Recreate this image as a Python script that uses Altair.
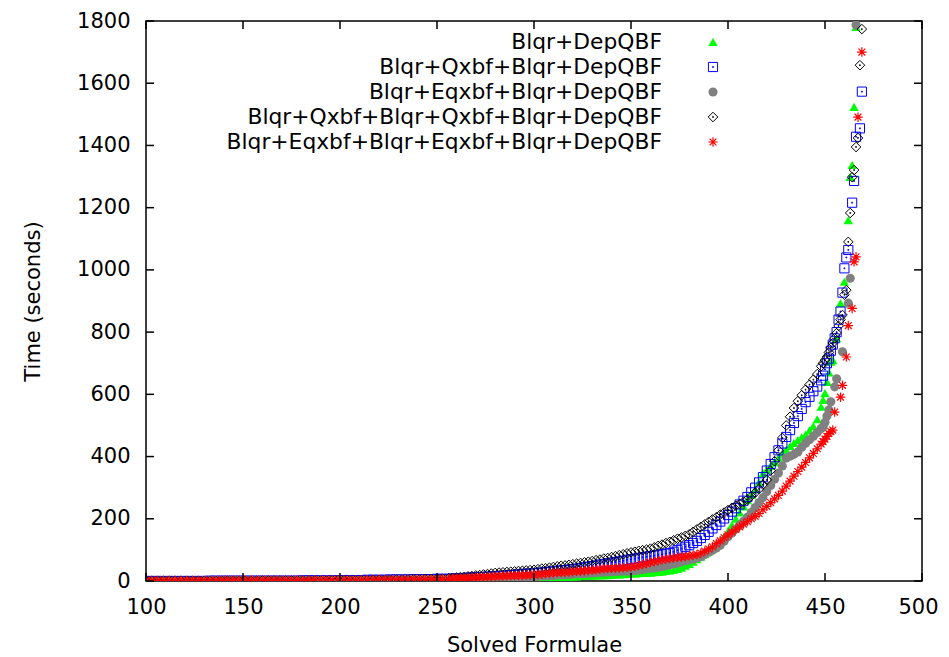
import altair as alt
import pandas as pd

# ---------------- data ----------------
names = [
    "Blqr+DepQBF",
    "Blqr+Qxbf+Blqr+DepQBF",
    "Blqr+Eqxbf+Blqr+DepQBF",
    "Blqr+Qxbf+Blqr+Qxbf+Blqr+DepQBF",
    "Blqr+Eqxbf+Blqr+Eqxbf+Blqr+DepQBF",
]

# solved-formulae positions (flat part every 3, rising part every 2)
x_flat = [100, 103, 106, 109, 112, 115, 118, 121, 124, 127, 130, 133, 136, 139, 142, 145, 148, 151, 154, 157,
          160, 163, 166, 169, 172, 175, 178, 181, 184, 187, 190, 193, 196, 199, 202, 205, 208, 211, 214, 217,
          220, 223, 226, 229, 232, 235, 238, 241, 244, 247, 250, 253, 256]
x_mid = [258, 260, 262, 264, 266, 268, 270, 272, 274, 276, 278, 280, 282, 284, 286, 288, 290, 292, 294, 296,
         298, 300, 302, 304, 306, 308, 310, 312, 314, 316, 318, 320, 322, 324, 326, 328, 330, 332, 334, 336,
         338, 340, 342, 344, 346, 348, 350, 352, 354, 356, 358, 360, 362, 364, 366, 368, 370, 372, 374, 376,
         378, 380, 382, 384, 386, 388, 390, 392, 394, 396, 398, 400, 402, 404, 406, 408, 410, 412, 414, 416,
         418, 420, 422, 424, 426, 428, 430, 432, 434, 436, 438, 440, 442, 444, 446, 448]

green_flat = [0, 0, 0, 0, 0, 0, 0, 0, 0, 0, 1, 1, 1, 1, 1, 1, 1, 1, 1, 1, 1, 1, 1, 1, 1, 1, 1, 1, 1, 1, 1,
              2, 2, 2, 2, 2, 2, 2, 2, 2, 2, 3, 3, 3, 3, 3, 3, 3, 3, 4, 4, 4, 4]
blue_flat = [0, 0, 0, 0, 0, 0, 0, 0, 0, 0, 0, 1, 1, 1, 1, 1, 1, 1, 1, 1, 1, 1, 1, 1, 1, 1, 1,
             2, 2, 2, 2, 2, 2, 2, 3, 3, 3, 3, 4, 4, 4, 4, 5, 5, 5, 5, 6, 6, 6, 6, 7, 7, 7]
gray_flat = [0, 0, 0, 0, 0, 0, 0, 0, 0, 0, 1, 1, 1, 1, 1, 1, 1, 1, 1, 1, 1, 1, 1, 1, 1, 1, 1, 1, 1, 1,
             2, 2, 2, 2, 2, 2, 2, 2, 2, 2, 3, 3, 3, 3, 3, 3, 4, 4, 4, 4, 5, 5, 5]
black_flat = [1, 1, 1, 1, 1, 1, 1, 1, 1, 1, 1, 1, 1, 1, 1, 1, 1, 1, 1, 1, 2, 2, 2, 2, 2, 2, 2, 2, 2, 2, 2, 2,
              3, 3, 3, 3, 3, 3, 3, 4, 4, 4, 4, 5, 5, 5, 6, 6, 7, 7, 8, 8, 9]
red_flat = [2, 2, 2, 2, 2, 2, 2, 2, 2, 2, 2, 2, 2, 3, 3, 3, 3, 3, 3, 3, 3, 3, 3, 3, 3, 3, 3, 3, 3,
            4, 4, 4, 4, 4, 4, 4, 4, 4, 4, 5, 5, 5, 5, 5, 5, 5, 6, 6, 6, 6, 7, 7, 7]

green_mid = [3, 3, 3, 4, 4, 4, 5, 5, 5, 6, 6, 6, 7, 7, 7, 8, 8, 8, 9, 9,
             9, 10, 10, 11, 11, 12, 12, 13, 13, 14, 14, 15, 15, 16, 16, 17, 17, 18, 18, 19,
             19, 20, 21, 21, 22, 23, 24, 24, 25, 26, 26, 27, 28, 29, 30, 32, 34, 36, 39, 43,
             49, 55, 62, 70, 78, 86, 95, 104, 115, 127, 143, 160, 180, 200, 220, 240, 260, 277, 294, 318,
             346, 358, 370, 382, 396, 409, 421, 434, 444, 453, 462, 470, 484, 498, 520, 560]
blue_mid = [8, 8, 9, 10, 10, 11, 12, 12, 13, 14, 14, 15, 16, 17, 18, 19, 20, 21, 22, 23,
            24, 25, 26, 27, 29, 30, 31, 33, 34, 35, 37, 38, 40, 42, 44, 46, 48, 50, 53, 55,
            57, 59, 61, 63, 65, 68, 70, 72, 74, 76, 78, 80, 82, 84, 86, 88, 90, 94, 99, 104,
            110, 115, 122, 129, 138, 148, 158, 169, 180, 191, 201, 212, 223, 234, 246, 258, 270, 285, 300, 317,
            334, 355, 376, 398, 420, 442, 463, 485, 508, 530, 553, 575, 592, 610, 625, 645]
gray_mid = [5, 5, 5, 6, 6, 6, 7, 7, 7, 8, 8, 8, 9, 9, 10, 10, 11, 12, 12, 13,
            13, 14, 15, 16, 16, 17, 18, 19, 20, 20, 21, 22, 23, 24, 24, 25, 26, 27, 28, 28,
            29, 30, 31, 31, 32, 32, 33, 34, 35, 37, 39, 41, 42, 44, 46, 49, 52, 55, 58, 62,
            65, 68, 71, 74, 78, 85, 92, 99, 106, 115, 128, 142, 154, 167, 180, 192, 205, 220, 236, 252,
            268, 288, 307, 327, 347, 370, 395, 401, 407, 415, 430, 443, 454, 465, 477, 490]
black_mid = [10, 11, 12, 13, 15, 16, 18, 19, 21, 22, 24, 26, 27, 28, 29, 30, 31, 32, 33, 34,
             35, 36, 38, 40, 41, 43, 45, 47, 49, 50, 52, 54, 56, 58, 60, 62, 64, 67, 69, 72,
             74, 77, 80, 83, 86, 89, 92, 94, 97, 99, 101, 104, 108, 113, 117, 122, 126, 131, 136, 140,
             145, 150, 158, 166, 174, 182, 190, 198, 205, 213, 220, 228, 235, 242, 248, 255, 262, 273, 284, 296,
             310, 325, 355, 385, 420, 460, 500, 528, 556, 578, 597, 615, 631, 647, 665, 690]
red_mid = [8, 9, 9, 10, 10, 11, 12, 12, 13, 13, 14, 15, 15, 16, 16, 17, 17, 18, 18, 19,
           19, 20, 21, 22, 24, 25, 26, 27, 28, 28, 29, 30, 31, 32, 33, 34, 35, 36, 38, 39,
           40, 41, 41, 42, 43, 44, 45, 47, 50, 53, 56, 60, 62, 65, 68, 70, 72, 74, 76, 77,
           79, 81, 83, 85, 90, 96, 103, 110, 120, 129, 139, 148, 157, 166, 174, 183, 191, 200, 208, 217,
           229, 240, 252, 264, 275, 289, 305, 321, 337, 352, 366, 381, 396, 410, 425, 440]

# the hardest formulae, one marker each
green_tail_x = [449, 450, 451, 452, 453, 454, 456, 458, 460, 462, 463, 464, 465, 466]
green_tail_y = [582, 604, 640, 670, 705, 710, 780, 893, 962, 1160, 1299, 1337, 1524, 1781]
blue_tail_x = [449, 450, 451, 452, 453, 454, 455, 456, 457, 458, 459, 460, 461, 462, 464, 465, 466, 468, 469]
blue_tail_y = [660, 680, 700, 715, 740, 760, 780, 800, 840, 866, 927, 1005, 1040, 1064, 1216, 1286, 1428, 1455, 1573]
gray_tail_x = [449, 450, 451, 452, 453, 455, 456, 459, 462, 463, 466]
gray_tail_y = [496, 510, 530, 550, 576, 624, 650, 737, 893, 973, 1787]
black_tail_x = [449, 450, 451, 452, 453, 454, 455, 456, 457, 458, 459, 460, 461, 462, 463, 464, 465, 466, 467, 468, 469]
black_tail_y = [700, 710, 720, 735, 750, 765, 780, 797, 820, 840, 855, 920, 935, 1090, 1183, 1298, 1321, 1395, 1424, 1658, 1774]
red_tail_x = [449, 450, 451, 452, 453, 454, 455, 458, 459, 461, 462, 464, 465, 466, 467, 469]
red_tail_y = [448, 456, 465, 474, 480, 485, 543, 591, 629, 720, 821, 876, 1026, 1042, 1491, 1700]

x_ticks = [100, 150, 200, 250, 300, 350, 400, 450, 500]
y_ticks = [0, 200, 400, 600, 800, 1000, 1200, 1400, 1600, 1800]

flats = [green_flat, blue_flat, gray_flat, black_flat, red_flat]
mids = [green_mid, blue_mid, gray_mid, black_mid, red_mid]
tails_x = [green_tail_x, blue_tail_x, gray_tail_x, black_tail_x, red_tail_x]
tails_y = [green_tail_y, blue_tail_y, gray_tail_y, black_tail_y, red_tail_y]
for f, m in zip(flats, mids):
    assert len(f) == len(x_flat) and len(m) == len(x_mid)

# ---------------- styles ----------------
colors = ["#00ff00", "#0000ff", "#808080", "#000000", "#ff0000"]
dot = "M-0.1,-0.1L0.1,-0.1L0.1,0.1L-0.1,0.1Z"
shapes = [
    "triangle-up",
    "M-1,-1L1,-1L1,1L-1,1Z" + dot,
    "circle",
    "M0,-1.15L1.15,0L0,1.15L-1.15,0Z" + dot,
    "M-1,0L1,0M0,-1L0,1M-0.72,-0.72L0.72,0.72M-0.72,0.72L0.72,-0.72",
]
filled = [True, False, True, False, False]
sizes = [88, 84, 84, 70, 90]
stroke_w = [0, 1, 0, 1, 1.2]

W, H = 776, 560
FONT = "DejaVu Sans"

xscale = alt.Scale(domain=[100, 500], nice=False, zero=False)
yscale = alt.Scale(domain=[0, 1800], nice=False, zero=False)
x_axis = alt.Axis(values=x_ticks, format="d", title="Solved Formulae", domain=False, ticks=False, grid=False,
                  labelPadding=15, titlePadding=17, labelFlush=False,
                  labelOffset={"condition": {"test": "datum.value === 500", "value": -4}, "value": 0})
y_axis = alt.Axis(values=y_ticks, format="d", title="Time (seconds)", domain=False, ticks=False, grid=False,
                  labelPadding=16, titlePadding=33, labelFlush=False)


def point_mark(chart, i, clip):
    if filled[i]:
        return chart.mark_point(shape=shapes[i], filled=True, fill=colors[i], strokeWidth=0,
                                opacity=1, size=sizes[i], clip=clip)
    return chart.mark_point(shape=shapes[i], filled=False, stroke=colors[i], strokeWidth=stroke_w[i],
                            opacity=1, size=sizes[i], clip=clip)


layers = []
for i, name in enumerate(names):
    xs = x_flat + x_mid + tails_x[i]
    ys = flats[i] + mids[i] + tails_y[i]
    df = pd.DataFrame({"solved": xs, "time": ys, "solver": name})
    layers.append(point_mark(alt.Chart(df), i, True).encode(
        x=alt.X("solved:Q", scale=xscale, axis=x_axis),
        y=alt.Y("time:Q", scale=yscale, axis=y_axis),
    ))

# legend (gnuplot style: text right-aligned, symbol to the right)
leg_df = pd.DataFrame({"solver": names})
for i, name in enumerate(names):
    row_y = 21 + 25 * i
    sub = leg_df.iloc[[i]]
    layers.append(
        alt.Chart(sub).mark_text(align="right", baseline="middle", font=FONT, fontSize=21.8, color="black")
        .encode(text="solver:N", x=alt.value(516), y=alt.value(row_y))
    )
    layers.append(point_mark(alt.Chart(sub), i, False).encode(x=alt.value(567), y=alt.value(row_y)))

# inward ticks on all four sides (gnuplot mirror tics)
xt = pd.DataFrame({"solved": x_ticks})
yt = pd.DataFrame({"time": y_ticks})
tick_style = dict(color="black", strokeWidth=1.5)
X_T = alt.X("solved:Q", scale=xscale, axis=x_axis)
Y_T = alt.Y("time:Q", scale=yscale, axis=y_axis)
layers.append(alt.Chart(xt).mark_rule(**tick_style).encode(x=X_T, y=alt.value(H - 8), y2=alt.value(H)))
layers.append(alt.Chart(xt).mark_rule(**tick_style).encode(x=X_T, y=alt.value(0), y2=alt.value(8)))
layers.append(alt.Chart(yt).mark_rule(**tick_style).encode(y=Y_T, x=alt.value(0), x2=alt.value(8)))
layers.append(alt.Chart(yt).mark_rule(**tick_style).encode(y=Y_T, x=alt.value(W - 8), x2=alt.value(W)))

chart = alt.layer(*layers).properties(
    width=W, height=H,
    autosize=alt.AutoSizeParams(type="none"),
    padding={"left": 138, "top": 13, "right": 19, "bottom": 75},
).configure_view(
    stroke="black", strokeWidth=1.5
).configure_axis(
    labelFont=FONT, titleFont=FONT, labelFontSize=21, titleFontSize=21,
    labelColor="black", titleColor="black", titleFontWeight="normal"
)

chart.save("out.html", embed_options={"renderer": "svg", "actions": False})
